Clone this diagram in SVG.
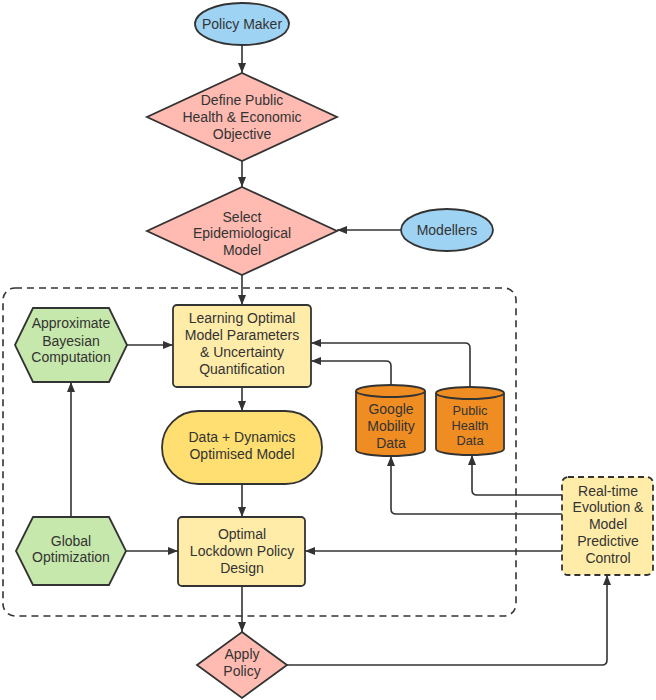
<svg xmlns="http://www.w3.org/2000/svg" width="656" height="700" viewBox="0 0 656 700">
<style>
text{font-family:"Liberation Sans",Arial,sans-serif;font-size:14px;fill:#333;text-anchor:middle}
.sm{font-size:12.8px}
.sh{stroke:#333;stroke-width:1.8}
.blue{fill:#9fd3f3}
.pink{fill:#ffbbb1}
.green{fill:#c7e8ac}
.ylw{fill:#ffeca9}
.gold{fill:#ffdf71}
.org{fill:#ef8d22}
.cn{fill:none;stroke:#333;stroke-width:1.6;marker-end:url(#ah)}
</style>
<defs>
<marker id="ah" markerUnits="userSpaceOnUse" markerWidth="10" markerHeight="8" refX="10" refY="4" orient="auto">
<path d="M0,0 L10,4 L0,8 z" fill="#333"/>
</marker>
</defs>
<rect id="container" x="3" y="288" width="513" height="328" rx="12" fill="none" stroke="#333" stroke-width="1.6" stroke-dasharray="7 5"/>
<g id="connectors">
<path class="cn" d="M242,45 V73"/>
<path class="cn" d="M242,161 V187"/>
<path class="cn" d="M401,230 H337"/>
<path class="cn" d="M242,275 V305"/>
<path class="cn" d="M127,345 H173"/>
<path class="cn" d="M242,387 V411"/>
<path class="cn" d="M242,484 V517"/>
<path class="cn" d="M71,517 V382"/>
<path class="cn" d="M126,551 H178"/>
<path class="cn" d="M391,385 V366 Q391,361 386,361 H311"/>
<path class="cn" d="M470,387 V348 Q470,343 465,343 H311"/>
<path class="cn" d="M562,495 H477 Q472,495 472,490 V455"/>
<path class="cn" d="M562,514 H396 Q391,514 391,509 V456"/>
<path class="cn" d="M562,551 H305"/>
<path class="cn" d="M242,586 V632"/>
<path class="cn" d="M287,665 H602 Q607,665 607,660 V575"/>
</g>
<g id="policy-maker">
<ellipse class="blue sh" cx="242" cy="24" rx="47" ry="21"/>
<text x="242" y="29">Policy Maker</text>
</g>
<g id="define-objective">
<polygon class="pink sh" points="242,73 337,117 242,161 147,117"/>
<text x="242" y="105">Define Public</text>
<text x="242" y="122">Health &amp; Economic</text>
<text x="242" y="139">Objective</text>
</g>
<g id="select-model">
<polygon class="pink sh" points="242,187 337,231 242,275 147,231"/>
<text x="242" y="222">Select</text>
<text x="242" y="238">Epidemiological</text>
<text x="242" y="255">Model</text>
</g>
<g id="modellers">
<ellipse class="blue sh" cx="447" cy="230" rx="46" ry="21"/>
<text x="447" y="235">Modellers</text>
</g>
<g id="abc">
<polygon class="green sh" points="15,345 33,308 109,308 127,345 109,382 33,382"/>
<text x="71" y="328">Approximate</text>
<text x="71" y="346">Bayesian</text>
<text x="71" y="362">Computation</text>
</g>
<g id="learning">
<rect class="ylw sh" x="173" y="305" width="138" height="82" rx="4"/>
<text x="242" y="323">Learning Optimal</text>
<text x="242" y="340">Model Parameters</text>
<text x="242" y="357">&amp; Uncertainty</text>
<text x="242" y="374">Quantification</text>
</g>
<g id="data-dynamics">
<rect class="gold sh" x="162" y="411" width="160" height="73" rx="36.5"/>
<text x="242" y="442">Data + Dynamics</text>
<text x="242" y="459">Optimised Model</text>
</g>
<g id="google-data">
<path class="org sh" d="M356,391 A34.5,6 0 0 1 425,391 V450 A34.5,6 0 0 1 356,450 Z"/>
<path fill="none" class="sh" d="M356,391 A34.5,6 0 0 0 425,391"/>
<text x="391" y="414">Google</text>
<text x="391" y="431">Mobility</text>
<text x="391" y="448">Data</text>
</g>
<g id="public-health-data">
<path class="org sh" d="M436,393 A34,6 0 0 1 504,393 V449 A34,6 0 0 1 436,449 Z"/>
<path fill="none" class="sh" d="M436,393 A34,6 0 0 0 504,393"/>
<text class="sm" x="470" y="415">Public</text>
<text class="sm" x="470" y="430">Health</text>
<text class="sm" x="470" y="445">Data</text>
</g>
<g id="realtime">
<rect class="ylw" x="562" y="477" width="91" height="98" rx="6" stroke="#333" stroke-width="1.8" stroke-dasharray="6 4"/>
<text x="608" y="496">Real-time</text>
<text x="608" y="512">Evolution &amp;</text>
<text x="608" y="529">Model</text>
<text x="608" y="546">Predictive</text>
<text x="608" y="563">Control</text>
</g>
<g id="global-opt">
<polygon class="green sh" points="16,551 33,517 109,517 126,551 109,585 33,585"/>
<text x="71" y="546">Global</text>
<text x="71" y="562">Optimization</text>
</g>
<g id="lockdown">
<rect class="ylw sh" x="178" y="517" width="127" height="69" rx="4"/>
<text x="242" y="539">Optimal</text>
<text x="242" y="556">Lockdown Policy</text>
<text x="242" y="573">Design</text>
</g>
<g id="apply-policy">
<polygon class="pink sh" points="242,632 287,665 242,698 197,665"/>
<text x="242" y="659">Apply</text>
<text x="242" y="676">Policy</text>
</g>
</svg>
